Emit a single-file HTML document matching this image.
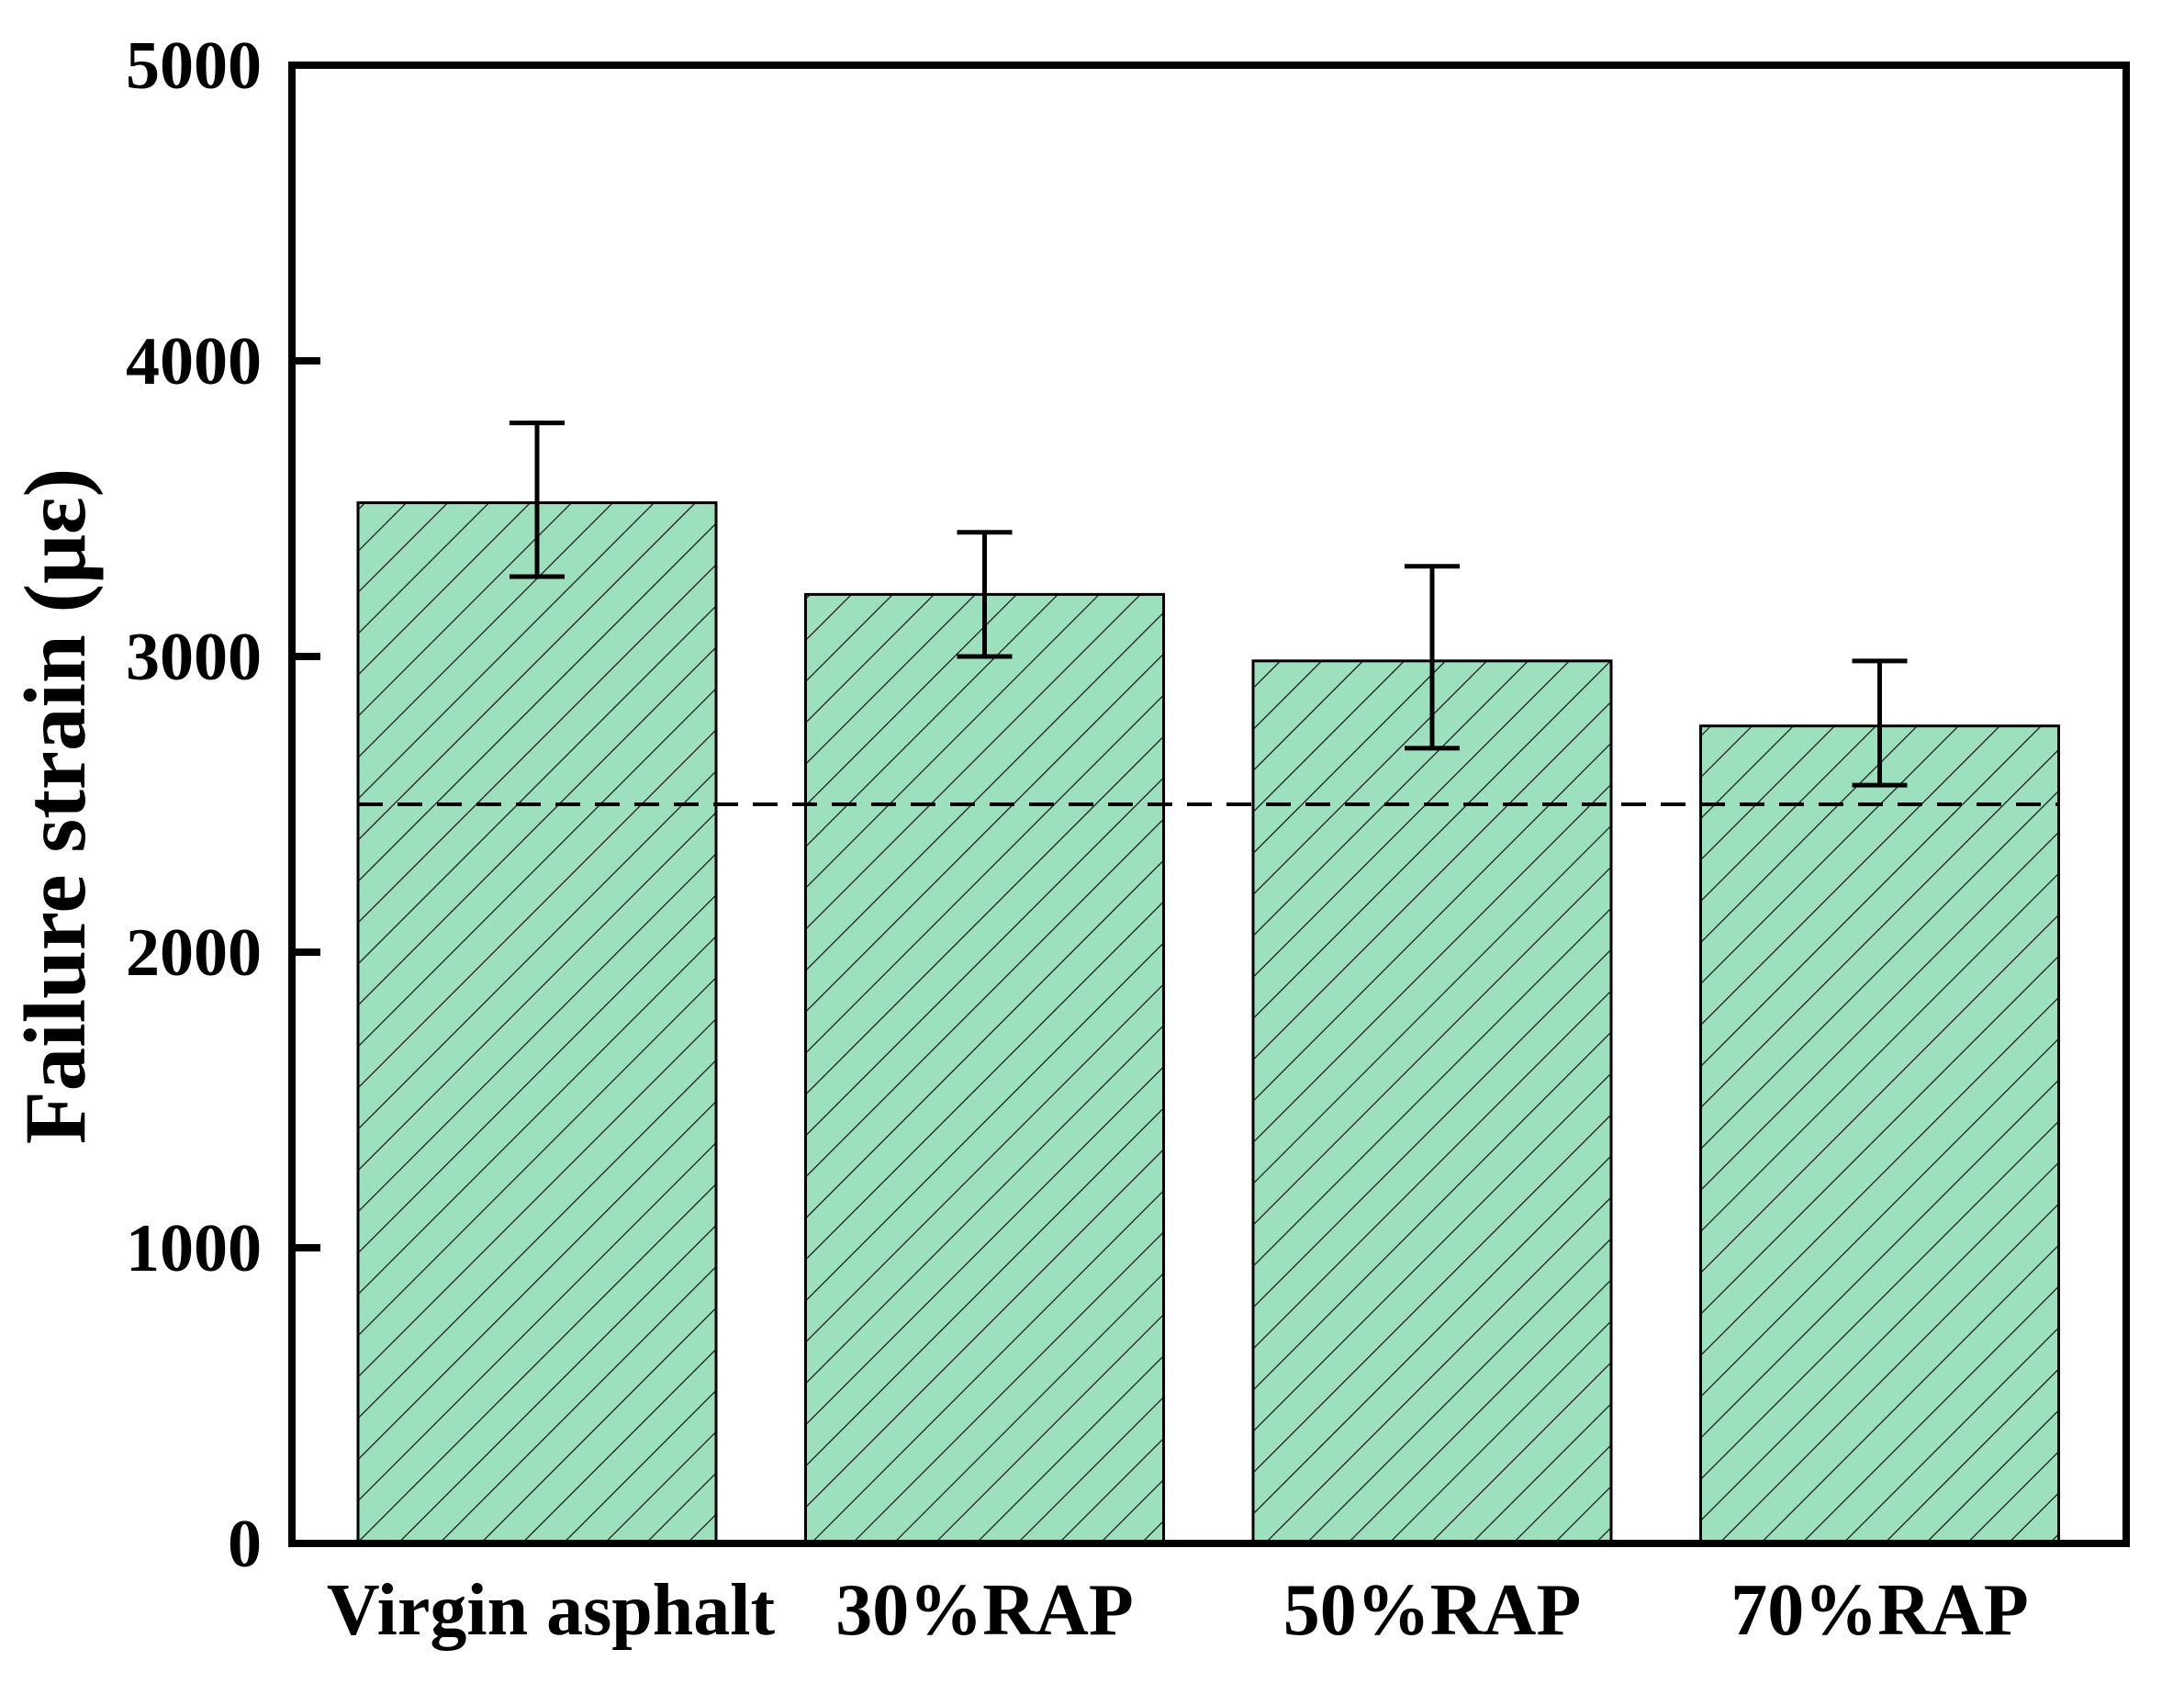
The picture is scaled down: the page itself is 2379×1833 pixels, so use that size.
<!DOCTYPE html>
<html><head><meta charset="utf-8"><style>
html,body{margin:0;padding:0;background:#fff}
svg{display:block}
text{font-family:"Liberation Serif",serif;font-weight:bold;fill:#000}
</style></head><body>
<svg id="chart" width="2379" height="1833" viewBox="0 0 2379 1833">
<defs>
<pattern id="hatch" patternUnits="userSpaceOnUse" width="31.8" height="31.8" patternTransform="rotate(45)">
<rect width="31.8" height="31.8" fill="#9de0bd"/>
<line x1="0" y1="0" x2="0" y2="31.8" stroke="#111" stroke-width="2.4"/>
</pattern>
</defs>
<g id="plot"></g>
</svg>
<script>
const categories = ["Virgin asphalt","30%RAP","50%RAP","70%RAP"];
const values = [3520, 3210, 2985, 2765];
const errLow = [3270, 3000, 2690, 2565];
const errHigh = [3790, 3420, 3305, 2985];
const yTicks = [0,1000,2000,3000,4000,5000];
const refLine = 2500;

const L=318,R=2316,T=71,B=1681,yMax=5000;
const NS="http://www.w3.org/2000/svg";
const g=document.getElementById('plot');
function y(v){return B-(v/yMax)*(B-T);}
const step=487.5, x0=585;
function xc(i){return x0+step*i;}
const bw=390;
function mk(tag,attrs,parent){const e=document.createElementNS(NS,tag);for(const k in attrs)e.setAttribute(k,attrs[k]);(parent||g).appendChild(e);return e;}

categories.forEach((c,i)=>{
  const b=mk('rect',{x:xc(i)-bw/2,y:y(values[i]),width:bw,height:B-y(values[i]),fill:'url(#hatch)',stroke:'#000','stroke-width':3});
  
  
});
const dl=mk('line',{x1:xc(0)-bw/2,x2:xc(3)+bw/2,y1:y(refLine),y2:y(refLine),stroke:'#000','stroke-width':4,'stroke-dasharray':'27,16'});


categories.forEach((c,i)=>{
  const eg=mk('g',{stroke:'#000','stroke-width':5});
  
  
  const x=xc(i);
  mk('line',{x1:x,x2:x,y1:y(errLow[i]),y2:y(errHigh[i])},eg);
  mk('line',{x1:x-30,x2:x+30,y1:y(errLow[i]),y2:y(errLow[i])},eg);
  mk('line',{x1:x-30,x2:x+30,y1:y(errHigh[i]),y2:y(errHigh[i])},eg);
});
const fr=mk('rect',{x:L,y:T,width:R-L,height:B-T,fill:'none',stroke:'#000','stroke-width':8});


yTicks.forEach(v=>{
  const t=mk('line',{x1:L,x2:L+31,y1:y(v),y2:y(v),stroke:'#000','stroke-width':8});
  
  
  const tx=mk('text',{x:285,y:y(v)+25,'text-anchor':'end','font-size':74});
  tx.textContent=v;
  
  
});
categories.forEach((c,i)=>{
  const tx=mk('text',{x:xc(i)+(i==0?15:0),y:1780,'text-anchor':'middle','font-size':80});
  tx.textContent=c;
  
  
});
const yt=mk('text',{x:0,y:0,'text-anchor':'middle','font-size':95,transform:'translate(92,878) rotate(-90)'});
yt.textContent='Failure strain (με)';


</script>
</body></html>
